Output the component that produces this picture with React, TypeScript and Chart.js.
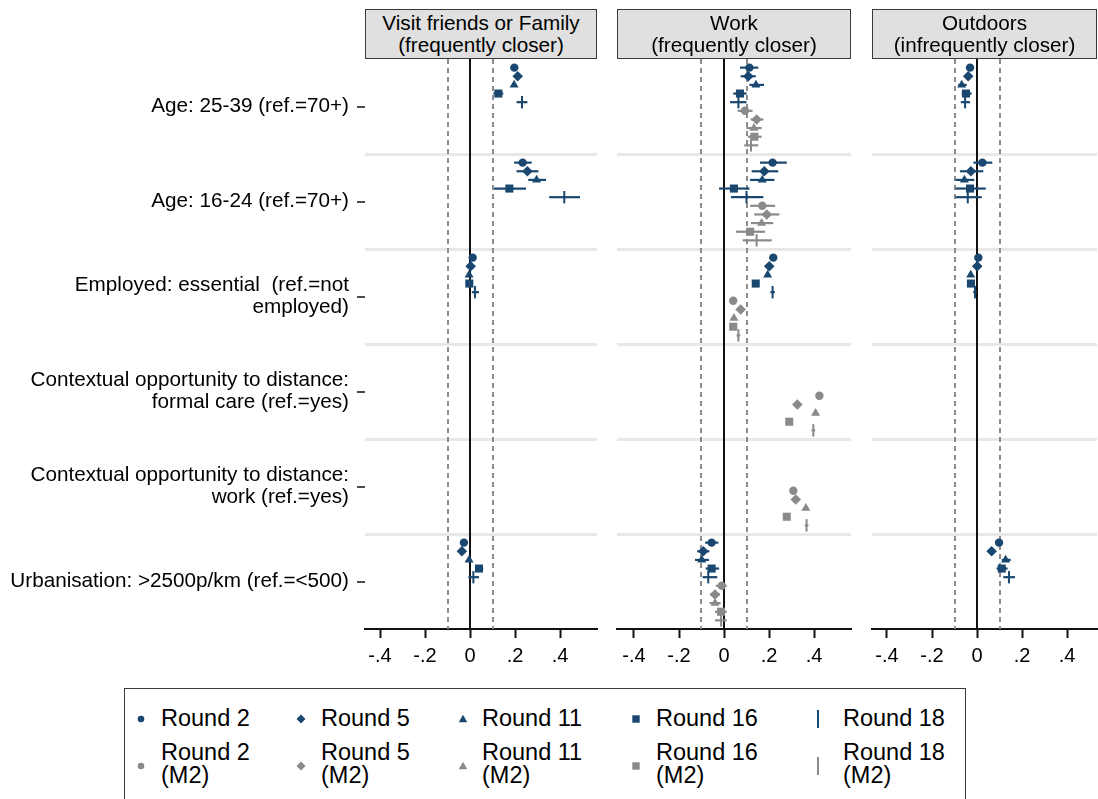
import React, { useEffect, useRef } from 'react';
import { Chart, registerables } from 'chart.js';

Chart.register(...registerables);

// ---------------- data ----------------
const categories: (string | string[])[] = [
  'Age: 25-39 (ref.=70+)',
  'Age: 16-24 (ref.=70+)',
  ['Employed: essential  (ref.=not', 'employed)'],
  ['Contextual opportunity to distance:', 'formal care (ref.=yes)'],
  ['Contextual opportunity to distance:', 'work (ref.=yes)'],
  'Urbanisation: >2500p/km (ref.=<500)',
];
const rounds = ['Round 2', 'Round 5', 'Round 11', 'Round 16', 'Round 18'];
const panelTitles = [
  ['Visit friends or Family', '(frequently closer)'],
  ['Work', '(frequently closer)'],
  ['Outdoors', '(infrequently closer)'],
];
const xTickValues = [-0.4, -0.2, 0, 0.2, 0.4];
const xTickLabels = ['-.4', '-.2', '0', '.2', '.4'];
const refLineValues = [-0.1, 0.1];

// rows: Round 2, 5, 11, 16, 18 ; columns follow `categories`
const visitEst = [
  [0.197, 0.234, 0.012, null, null, -0.027],
  [0.212, 0.255, 0.003, null, null, -0.036],
  [0.196, 0.296, -0.004, null, null, -0.004],
  [0.126, 0.175, -0.003, null, null, 0.040],
  [0.231, 0.419, 0.022, null, null, 0.015],
];
const visitLo = [
  [0.189, 0.196, 0.005, null, null, -0.035],
  [0.204, 0.207, -0.004, null, null, -0.044],
  [0.188, 0.259, -0.011, null, null, -0.011],
  [0.104, 0.107, -0.010, null, null, 0.022],
  [0.207, 0.352, 0.008, null, null, -0.007],
];
const visitHi = [
  [0.205, 0.274, 0.019, null, null, -0.019],
  [0.220, 0.304, 0.010, null, null, -0.028],
  [0.204, 0.338, 0.003, null, null, 0.003],
  [0.148, 0.249, 0.004, null, null, 0.059],
  [0.255, 0.489, 0.040, null, null, 0.040],
];

const workEst = [
  [0.113, 0.216, 0.219, null, null, -0.055],
  [0.108, 0.179, 0.201, null, null, -0.092],
  [0.142, 0.170, 0.194, null, null, -0.099],
  [0.071, 0.044, 0.141, null, null, -0.055],
  [0.064, 0.100, 0.216, null, null, -0.070],
];
const workLo = [
  [0.071, 0.160, 0.211, null, null, -0.084],
  [0.074, 0.123, 0.193, null, null, -0.119],
  [0.113, 0.116, 0.186, null, null, -0.129],
  [0.041, -0.022, 0.133, null, null, -0.081],
  [0.027, 0.031, 0.206, null, null, -0.095],
];
const workHi = [
  [0.152, 0.279, 0.227, null, null, -0.025],
  [0.141, 0.241, 0.209, null, null, -0.065],
  [0.178, 0.224, 0.202, null, null, -0.067],
  [0.100, 0.113, 0.149, null, null, -0.022],
  [0.100, 0.175, 0.226, null, null, -0.030],
];
const workM2Est = [
  [0.093, 0.170, 0.041, 0.424, 0.308, -0.010],
  [0.145, 0.190, 0.074, 0.326, 0.319, -0.040],
  [0.133, 0.167, 0.044, 0.407, 0.364, -0.040],
  [0.135, 0.116, 0.041, 0.290, 0.279, -0.013],
  [0.120, 0.145, 0.064, 0.397, 0.367, -0.013],
];
const workM2Lo = [
  [0.061, 0.116, 0.034, 0.417, 0.301, -0.036],
  [0.119, 0.135, 0.067, 0.319, 0.312, -0.062],
  [0.100, 0.120, 0.037, 0.400, 0.357, -0.064],
  [0.106, 0.053, 0.034, 0.283, 0.272, -0.040],
  [0.090, 0.083, 0.056, 0.389, 0.359, -0.040],
];
const workM2Hi = [
  [0.127, 0.227, 0.048, 0.431, 0.315, 0.012],
  [0.175, 0.246, 0.081, 0.333, 0.326, -0.018],
  [0.167, 0.219, 0.051, 0.414, 0.371, -0.015],
  [0.167, 0.182, 0.048, 0.297, 0.286, 0.012],
  [0.152, 0.212, 0.072, 0.405, 0.375, 0.012],
];

const outdoorsEst = [
  [-0.031, 0.024, 0.006, null, null, 0.098],
  [-0.039, -0.027, 0.001, null, null, 0.065],
  [-0.068, -0.056, -0.028, null, null, 0.127],
  [-0.049, -0.031, -0.027, null, null, 0.110],
  [-0.053, -0.041, -0.009, null, null, 0.142],
];
const outdoorsLo = [
  [-0.039, -0.016, -0.001, null, null, 0.091],
  [-0.047, -0.076, -0.006, null, null, 0.058],
  [-0.083, -0.095, -0.035, null, null, 0.110],
  [-0.068, -0.095, -0.034, null, null, 0.087],
  [-0.072, -0.095, -0.017, null, null, 0.117],
];
const outdoorsHi = [
  [-0.023, 0.068, 0.013, null, null, 0.105],
  [-0.031, 0.028, 0.008, null, null, 0.072],
  [-0.046, -0.012, -0.021, null, null, 0.150],
  [-0.024, 0.039, -0.020, null, null, 0.136],
  [-0.031, 0.021, -0.001, null, null, 0.169],
];

// ---------------- styles / layout ----------------
const FONT = '"Liberation Sans", Arial, Helvetica, sans-serif';
const NAVY = '#1a476f';
const GRAY = '#8a8a8a';
const CANVAS_H = 680;
const PLOT_TOP = 59;
const PLOT_BOTTOM = 629;
const PX_PER_UNIT = 225;
const GROUP = 11;
const POINT_STYLES = ['circle', 'rectRot', 'triangle', 'rect', 'line'];
const POINT_RADII = [4.2, 5.3, 5.2, 5.7, 6.2];

type Series = {
  label: string;
  color: string;
  slot: number;
  style: number;
  est: (number | null)[];
  lo: (number | null)[];
  hi: (number | null)[];
};

function buildSeries(est: (number | null)[][], lo: (number | null)[][], hi: (number | null)[][], m2: boolean): Series[] {
  return rounds.map((r, i) => ({
    label: m2 ? r + ' (M2)' : r,
    color: m2 ? GRAY : NAVY,
    slot: (m2 ? 5 : 0) + i,
    style: i,
    est: est[i],
    lo: lo[i],
    hi: hi[i],
  }));
}

const panels = [
  {
    title: panelTitles[0], canvasLeft: 0, canvasWidth: 600, areaLeft: 365, areaRight: 597, zeroX: 470, labels: true,
    series: buildSeries(visitEst, visitLo, visitHi, false),
  },
  {
    title: panelTitles[1], canvasLeft: 614, canvasWidth: 240, areaLeft: 617, areaRight: 851, zeroX: 724, labels: false,
    series: [...buildSeries(workEst, workLo, workHi, false), ...buildSeries(workM2Est, workM2Lo, workM2Hi, true)],
  },
  {
    title: panelTitles[2], canvasLeft: 869, canvasWidth: 229, areaLeft: 872, areaRight: 1097, zeroX: 977, labels: false,
    series: buildSeries(outdoorsEst, outdoorsLo, outdoorsHi, false),
  },
];

const slotY = (g: number, slot: number) => g * GROUP + slot + 1;
const isSep = (v: number) => v > 0 && v < categories.length * GROUP && Math.abs(v % GROUP) < 1e-9;

function makeOverlay(series: Series[]) {
  return {
    id: 'coefOverlay',
    beforeDatasetsDraw(chart: any) {
      const { ctx, chartArea, scales } = chart;
      const x = scales.x;
      const y = scales.y;
      ctx.save();
      // reference lines
      ctx.strokeStyle = '#8c8c8c';
      ctx.lineWidth = 2;
      ctx.setLineDash([5, 4]);
      refLineValues.forEach((v) => {
        const px = Math.round(x.getPixelForValue(v));
        ctx.beginPath();
        ctx.moveTo(px, chartArea.top);
        ctx.lineTo(px, chartArea.bottom);
        ctx.stroke();
      });
      ctx.setLineDash([]);
      ctx.strokeStyle = '#111';
      const z = Math.round(x.getPixelForValue(0));
      ctx.beginPath();
      ctx.moveTo(z, chartArea.top - 1);
      ctx.lineTo(z, chartArea.bottom);
      ctx.stroke();
      // confidence intervals
      ctx.lineWidth = 2.2;
      series.forEach((s) => {
        s.est.forEach((e, g) => {
          const lo = s.lo[g];
          const hi = s.hi[g];
          if (e == null || lo == null || hi == null) return;
          const py = y.getPixelForValue(slotY(g, s.slot));
          ctx.strokeStyle = s.color;
          ctx.beginPath();
          ctx.moveTo(x.getPixelForValue(lo), py);
          ctx.lineTo(x.getPixelForValue(hi), py);
          ctx.stroke();
        });
      });
      ctx.restore();
    },
  };
}

function buildConfig(p: typeof panels[number]): any {
  const xMin = (p.areaLeft - p.zeroX) / PX_PER_UNIT;
  const xMax = (p.areaRight - p.zeroX) / PX_PER_UNIT;
  const font = { family: FONT, size: 20.7, lineHeight: 1.08 };
  return {
    type: 'scatter',
    data: {
      datasets: p.series.map((s) => ({
        label: s.label,
        data: s.est
          .map((v, g) => (v == null ? null : { x: v, y: slotY(g, s.slot) }))
          .filter((d) => d !== null),
        showLine: false,
        clip: false,
        pointStyle: POINT_STYLES[s.style],
        pointRadius: POINT_RADII[s.style],
        pointRotation: s.style === 4 ? 90 : 0,
        pointBackgroundColor: s.color,
        pointBorderColor: s.color,
        pointBorderWidth: s.style === 4 ? 2 : 0,
        backgroundColor: s.color,
        borderColor: s.color,
      })),
    },
    options: {
      responsive: false,
      animation: false,
      events: [],
      layout: {
        autoPadding: false,
        padding: {
          top: PLOT_TOP,
          bottom: 0,
          left: p.labels ? 0 : p.areaLeft - p.canvasLeft,
          right: p.canvasLeft + p.canvasWidth - p.areaRight,
        },
      },
      plugins: { legend: { display: false }, tooltip: { enabled: false }, title: { display: false } },
      scales: {
        x: {
          type: 'linear',
          min: xMin,
          max: xMax,
          afterFit: (a: any) => {
            a.height = CANVAS_H - PLOT_BOTTOM;
            a.paddingLeft = 0;
            a.paddingRight = 0;
          },
          afterBuildTicks: (a: any) => { a.ticks = xTickValues.map((v) => ({ value: v })); },
          ticks: {
            callback: (_v: any, i: number) => xTickLabels[i],
            font: { family: FONT, size: 20 },
            color: '#000',
            padding: 6,
            maxRotation: 0,
            autoSkip: false,
          },
          grid: {
            display: true,
            drawOnChartArea: false,
            drawTicks: true,
            tickLength: 9,
            tickColor: '#111',
            tickWidth: 2,
          },
          border: { display: true, color: '#111', width: 2 },
        },
        y: {
          type: 'linear',
          min: 0,
          max: categories.length * GROUP,
          reverse: true,
          afterFit: (a: any) => {
            a.width = p.labels ? p.areaLeft - p.canvasLeft : 0;
            a.paddingTop = 0;
            a.paddingBottom = 0;
          },
          afterBuildTicks: (a: any) => {
            const t: { value: number }[] = [];
            categories.forEach((_c, g) => {
              t.push({ value: g * GROUP + GROUP / 2 });
              if (g > 0) t.push({ value: g * GROUP });
            });
            a.ticks = t;
          },
          ticks: {
            display: p.labels,
            autoSkip: false,
            font,
            color: '#000',
            padding: 8,
            callback: (v: number) => {
              const g = (v - GROUP / 2) / GROUP;
              const r = Math.round(g);
              return Math.abs(g - r) < 1e-6 ? categories[r] : '';
            },
          },
          grid: {
            display: true,
            drawOnChartArea: true,
            drawTicks: p.labels,
            tickLength: 8,
            color: (c: any) => (c.tick && isSep(c.tick.value) ? '#e8e8e8' : 'rgba(0,0,0,0)'),
            lineWidth: (c: any) => (c.tick && isSep(c.tick.value) ? 3 : 0),
            tickColor: (c: any) => (c.tick && isSep(c.tick.value) ? 'rgba(0,0,0,0)' : '#111'),
            tickWidth: 1.5,
          },
          border: { display: false },
        },
      },
    },
    plugins: [makeOverlay(p.series)],
  };
}

function PanelChart({ p }: { p: typeof panels[number] }) {
  const ref = useRef<HTMLCanvasElement>(null);
  useEffect(() => {
    const chart = new Chart(ref.current as HTMLCanvasElement, buildConfig(p));
    return () => chart.destroy();
  }, []);
  return (
    <canvas
      ref={ref}
      width={p.canvasWidth}
      height={CANVAS_H}
      style={{ position: 'absolute', left: p.canvasLeft, top: 0, width: p.canvasWidth, height: CANVAS_H }}
    />
  );
}

function Header({ p }: { p: typeof panels[number] }) {
  return (
    <div
      style={{
        position: 'absolute', left: p.areaLeft, top: 9, width: p.areaRight - p.areaLeft, height: 50,
        boxSizing: 'border-box', border: '1.5px solid #3a3a3a', background: '#e0e0e0',
        display: 'flex', flexDirection: 'column', justifyContent: 'center', alignItems: 'center',
        fontFamily: FONT, fontSize: 20.7, lineHeight: '22px', color: '#000', textAlign: 'center',
      }}
    >
      {p.title.map((t, i) => <div key={i}>{t}</div>)}
    </div>
  );
}

function LegendMarker({ style, color }: { style: number; color: string }) {
  const s = 20;
  const c = s / 2;
  let shape: React.ReactNode = null;
  if (style === 0) shape = <circle cx={c} cy={c} r={3.3} fill={color} />;
  if (style === 1) shape = <polygon points={`${c},${c - 4.5} ${c + 4.5},${c} ${c},${c + 4.5} ${c - 4.5},${c}`} fill={color} />;
  if (style === 2) shape = <polygon points={`${c},${c - 4.2} ${c + 4.3},${c + 3.3} ${c - 4.3},${c + 3.3}`} fill={color} />;
  if (style === 3) shape = <rect x={c - 3.7} y={c - 3.7} width={7.4} height={7.4} fill={color} />;
  if (style === 4) shape = <rect x={c - 1} y={c - 9} width={2} height={18} fill={color} />;
  return <svg width={s} height={s} style={{ display: 'block' }}>{shape}</svg>;
}

const LEGEND_MARKER_X = [140, 300, 462, 635, 817];
const LEGEND_TEXT_X = [160, 320, 481, 655, 842];

function Legend() {
  return (
    <div
      style={{
        position: 'absolute', left: 124, top: 688, width: 842, height: 130, boxSizing: 'border-box',
        border: '1.5px solid #3a3a3a', background: '#fff',
      }}
    >
      {rounds.map((r, i) => (
        <React.Fragment key={r}>
          <div style={{ position: 'absolute', left: LEGEND_MARKER_X[i] - 124 - 10, top: 718 - 688 - 10 }}>
            <LegendMarker style={i} color={NAVY} />
          </div>
          <div style={{ position: 'absolute', left: LEGEND_TEXT_X[i] - 124, top: 718 - 688 - 12, fontFamily: FONT, fontSize: 23.5, lineHeight: '23px', whiteSpace: 'nowrap', color: '#000' }}>
            {r}
          </div>
          <div style={{ position: 'absolute', left: LEGEND_MARKER_X[i] - 124 - 10, top: 765 - 688 - 10 }}>
            <LegendMarker style={i} color={GRAY} />
          </div>
          <div style={{ position: 'absolute', left: LEGEND_TEXT_X[i] - 124, top: 752 - 688 - 12, fontFamily: FONT, fontSize: 23.5, lineHeight: '23px', whiteSpace: 'nowrap', color: '#000' }}>
            {r}<br />(M2)
          </div>
        </React.Fragment>
      ))}
    </div>
  );
}

export default function App() {
  return (
    <div style={{ position: 'fixed', left: 0, top: 0, width: 1098, height: 799, overflow: 'hidden', background: '#fff' }}>
      {panels.map((p, i) => <PanelChart key={i} p={p} />)}
      {panels.map((p, i) => <Header key={'h' + i} p={p} />)}
      <Legend />
    </div>
  );
}
